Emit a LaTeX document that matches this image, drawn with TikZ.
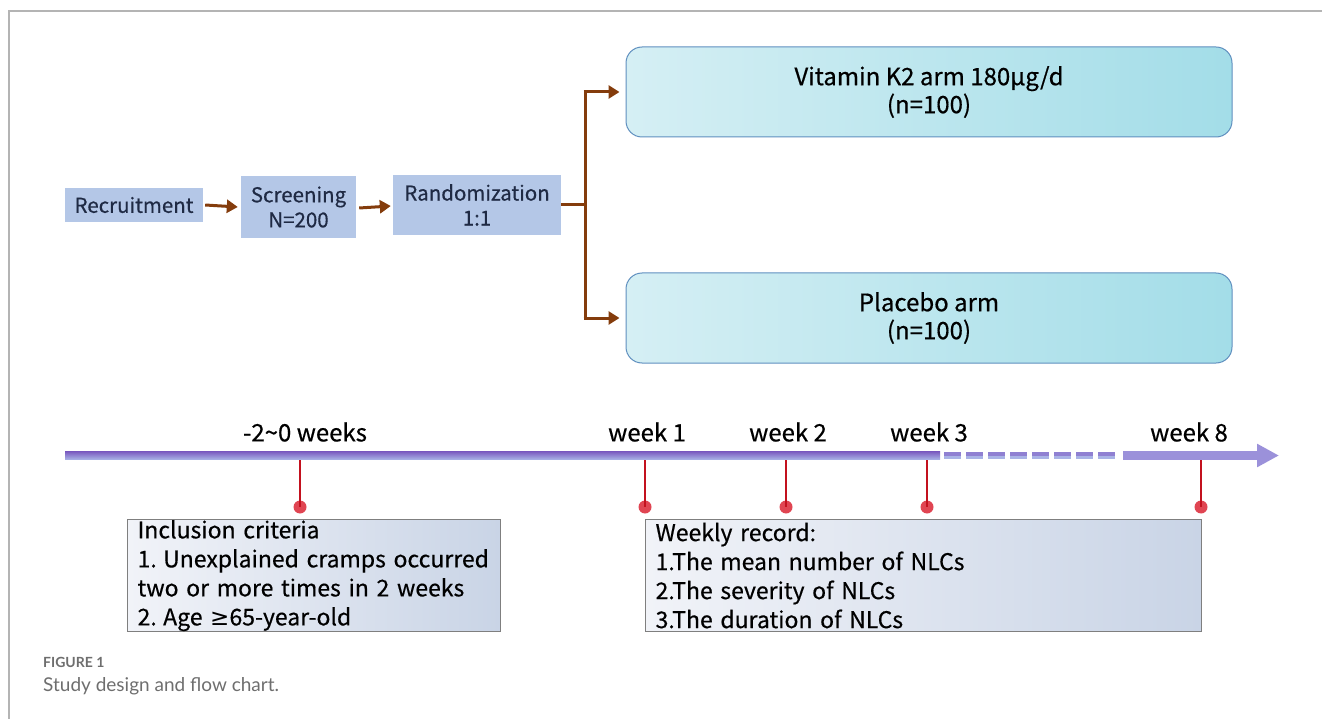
\documentclass[tikz,border=0pt]{standalone}
\usepackage{fontspec}
\setmainfont{Noto Sans CJK SC}[FakeBold=0.5]
\newfontfamily\symfont{DejaVu Sans}
\newfontfamily\capfont{Lato}
\usetikzlibrary{arrows.meta,positioning,calc}
\definecolor{smallbox}{HTML}{B4C7E7}
\definecolor{navytext}{HTML}{1F2A44}
\definecolor{brownarr}{HTML}{843C0C}
\definecolor{armleft}{HTML}{D5EFF4}
\definecolor{armright}{HTML}{A3DDE8}
\definecolor{armborder}{HTML}{5F8FBF}
\definecolor{tlTop}{HTML}{7A5BC0}
\definecolor{tlBot}{HTML}{A9B3E6}
\definecolor{tlDash}{HTML}{8F80D2}
\definecolor{tlArrow}{HTML}{9B91DA}
\definecolor{tickred}{HTML}{C3111E}
\definecolor{dotred}{HTML}{E04552}
\definecolor{infoleft}{HTML}{F1F3F8}
\definecolor{inforight}{HTML}{C9D4E6}
\definecolor{infoborder}{HTML}{7F7F7F}
\definecolor{frameg}{HTML}{B4B4B4}
\definecolor{capgrey}{HTML}{6E6E6E}
\tikzset{
  smallstep/.style={fill=smallbox, draw=none, text=navytext, align=center,
    font=\fontsize{20.5}{25}\selectfont, inner sep=0pt},
  armbox/.style={draw=armborder, line width=1pt, rounded corners=16pt,
    left color=armleft, right color=armright, minimum width=606pt, minimum height=90pt,
    align=center, font=\fontsize{24}{28}\selectfont, text=black},
  flowarrow/.style={draw=brownarr, line width=3pt, -{Triangle[length=11pt,width=13pt]}},
  flowline/.style={draw=brownarr, line width=3pt},
  infobox/.style={draw=infoborder, line width=1.2pt, left color=infoleft, right color=inforight,
    anchor=north west, minimum height=112pt, align=left, inner xsep=10pt, inner ysep=0pt,
    font=\fontsize{23}{29}\selectfont, text=black},
  weeklabel/.style={font=\fontsize{24}{26}\selectfont, text=black, inner sep=0pt},
  tickline/.style={draw=tickred, line width=2.5pt},
  tickdot/.style={circle, fill=dotred, minimum size=13pt, inner sep=0pt},
}
\begin{document}
\begin{tikzpicture}[x=1pt,y=-1pt]
\useasboundingbox (0,0) rectangle (1322,719);
% frame
\draw[frameg, line width=1.2pt] (1322,11) -- (9,11) -- (9,719);

% top flow
\node[smallstep, minimum width=138pt, minimum height=34pt] (rec) at (134,205) {Recruitment};
\node[smallstep, minimum width=115pt, minimum height=62pt] (scr) at (298.5,207) {Screening\\N=200};
\node[smallstep, minimum width=168pt, minimum height=60pt] (rand) at (477,205) {Randomization\\1:1};
\draw[flowarrow] (rec.east) ++(2,0) -- ($(scr.west)+(-3,0)$);
\draw[flowarrow] ($(scr.east)+(3,1)$) -- ($(rand.west)+(-2,1)$);

\node[armbox] (vit) at (929,92) {Vitamin K2 arm 180μg/d\\(n=100)};
\node[armbox] (plac) at (929,318) {Placebo arm\\(n=100)};

\coordinate (br) at (585,205);
\draw[flowline] (rand.east) -- (br);
\draw[flowline] (br |- vit.west) -- (br |- plac.west);
\draw[flowarrow, shorten >=6pt] ($(br |- vit.west)+(-1.5,0)$) -- (vit.west);
\draw[flowarrow, shorten >=6pt] ($(br |- plac.west)+(-1.5,0)$) -- (plac.west);

% timeline
\coordinate (tlarr) at (1123,455.5);
\coordinate (tlend) at (1279,455.5);

% ticks
\foreach \n/\x in {t0/300,t1/645,t2/786,t3/927,t8/1201}{
  \coordinate (\n top) at (\x,456);
  \node[tickdot] (\n dot) at (\x,507) {};
  \draw[tickline] (\n top) -- (\n dot.center);
}

\shade[top color=tlTop, bottom color=tlBot] (65,451.5) rectangle (940,459.5);
\draw[tlDash, line width=3.5pt, dash pattern=on 17pt off 5pt] (944,454) -- (1117,454);
\draw[tlBot, line width=3pt, dash pattern=on 17pt off 5pt] (944,457.5) -- (1117,457.5);
\draw[tlArrow, line width=9pt, -{Triangle[length=22pt,width=22pt]}] (tlarr) -- (tlend);

\node[weeklabel] (l0) at (305,432) {-2\textasciitilde 0 weeks};
\node[weeklabel] (l1) at (647,432) {week 1};
\node[weeklabel] (l2) at (788,432) {week 2};
\node[weeklabel] (l3) at (929,432) {week 3};
\node[weeklabel] (l8) at (1189,432) {week 8};

% info boxes
\node[infobox, text width=353pt] (incl) at (127,519) {Inclusion criteria\\1.\hspace{0.28em}Unexplained cramps occurred\\two or more times in 2 weeks\\2.\hspace{0.28em}Age {\symfont ≥}65-year-old};
\node[infobox, text width=536pt] (weekly) at (645,519) {Weekly record:\\1.The mean number of NLCs\\2.The severity of NLCs\\3.The duration of NLCs};

% caption
\node[anchor=west, inner sep=0pt, text=capgrey, font=\capfont\bfseries\fontsize{14}{16}\selectfont] (figlab) at (43,662) {FIGURE 1};
\node[anchor=west, inner sep=0pt, text=capgrey, font=\capfont\fontsize{19}{22}\selectfont] (figcap) at (43,686) {Study design and flow chart.};
\end{tikzpicture}
\end{document}
